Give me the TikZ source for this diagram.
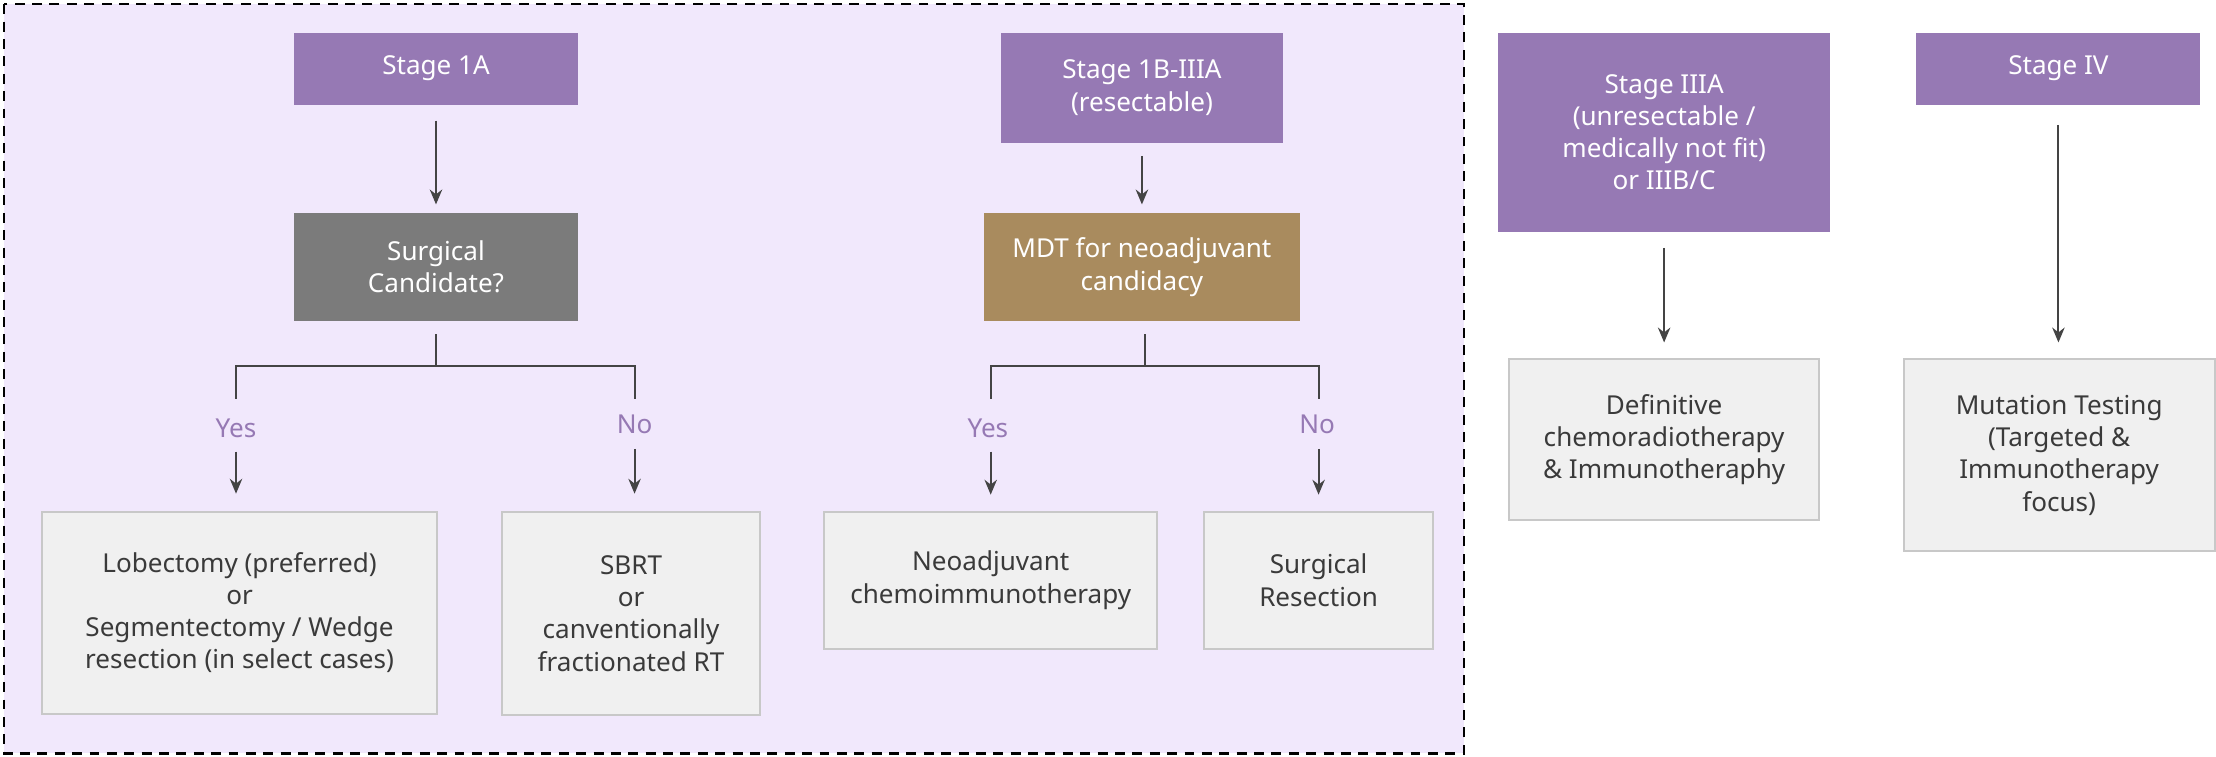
\documentclass[tikz,border=0pt]{standalone}
\usepackage{fontspec}
\setmainfont{Noto Sans}
\usetikzlibrary{arrows.meta}
\definecolor{stg}{HTML}{9679B4}
\definecolor{gry}{HTML}{7B7B7B}
\definecolor{brn}{HTML}{A98B5E}
\definecolor{lav}{HTML}{F1E8FC}
\definecolor{bfill}{HTML}{F0F0F0}
\definecolor{bline}{HTML}{C8C8C8}
\definecolor{txt}{HTML}{3A3A3A}
\definecolor{arr}{HTML}{444444}
\begin{document}
\begin{tikzpicture}[x=0.02cm,y=-0.02cm,
  every node/.style={font=\fontsize{10.5}{13}\selectfont, align=center, inner sep=2pt},
  stagebox/.style={fill=stg, text=white, font=\fontsize{10.5}{13}\selectfont\bfseries},
  qbox/.style={text=white, font=\fontsize{10.5}{13}\selectfont\bfseries},
  outbox/.style={fill=bfill, draw=bline, line width=0.8pt, text=txt},
  lbl/.style={text=stg, font=\fontsize{10.5}{13}\selectfont\bfseries},
  arw/.style={draw=arr, line width=0.8pt, -{Stealth[length=6pt,width=5pt]}},
  ln/.style={draw=arr, line width=0.8pt}]
\useasboundingbox (0,0) rectangle (1568,535);
\fill[white] (0,0) rectangle (1568,535);
\draw[fill=lav, dashed, line width=1pt, dash pattern=on 4pt off 3pt] (3,3) rectangle (1036,533);

\node[stagebox, minimum width=4.02cm, minimum height=1.02cm] (s1a) at (308.5,48.5) {Stage 1A};
\node[qbox, fill=gry, minimum width=4.02cm, minimum height=1.52cm] (surg) at (308.5,189) {Surgical\\Candidate?};
\node[outbox, minimum width=5.58cm, minimum height=2.86cm] (lob) at (169.5,433.5) {Lobectomy (preferred)\\\textbf{or}\\Segmentectomy / Wedge\\resection (in select cases)};
\node[outbox, minimum width=3.66cm, minimum height=2.88cm] (sbrt) at (446.5,434) {SBRT\\\textbf{or}\\canventionally\\fractionated RT};

\node[stagebox, minimum width=4cm, minimum height=1.56cm] (s1b) at (808,62) {Stage 1B-IIIA\\(resectable)};
\node[qbox, fill=brn, minimum width=4.48cm, minimum height=1.52cm] (mdt) at (808,189) {MDT for neoadjuvant\\candidacy};
\node[outbox, minimum width=4.72cm, minimum height=1.94cm] (neo) at (701,410.5) {Neoadjuvant\\chemoimmunotherapy};
\node[outbox, minimum width=3.24cm, minimum height=1.94cm] (sres) at (933,410.5) {Surgical\\Resection};

\node[stagebox, minimum width=4.7cm, minimum height=2.82cm] (s3) at (1177.5,93.5) {Stage IIIA\\(unresectable /\\medically not fit)\\or IIIB/C};
\node[outbox, minimum width=4.38cm, minimum height=2.28cm] (def) at (1177.5,311) {Definitive\\chemoradiotherapy\\\& Immunotheraphy};
\node[stagebox, minimum width=4.02cm, minimum height=1.02cm] (s4) at (1456.5,48.5) {Stage IV};
\node[outbox, minimum width=4.4cm, minimum height=2.72cm] (mut) at (1457,322) {Mutation Testing\\(Targeted \&\\Immunotherapy\\focus)};

% Stage 1A branch
\draw[arw, shorten <=0.22cm, shorten >=0.12cm] (s1a) -- (surg);
\coordinate (j1) at (308.5,259);
\draw[ln, shorten <=0.18cm] (surg.south) -- (j1);
\node[lbl] (y1) at (167,303) {Yes};
\node[lbl] (n1) at (449,300) {No};
\draw[ln] (y1.north |- j1) ++(0,23) -- ++(0,-23) -- (n1.north |- j1) -- ++(0,23);
\draw[arw, shorten <=0.12cm, shorten >=0.24cm] (y1) -- (y1 |- lob.north);
\draw[arw, shorten <=0.14cm, shorten >=0.24cm] (n1) -- (n1 |- sbrt.north);

% Stage 1B branch
\draw[arw, shorten <=0.18cm, shorten >=0.12cm] (s1b) -- (mdt);
\coordinate (j2) at (810,259);
\draw[ln, shorten <=0.18cm] (mdt.south -| j2) -- (j2);
\node[lbl] (y2) at (699,303) {Yes};
\node[lbl] (n2) at (932,300) {No};
\draw[ln] (701,282) -- (701,259) -- (933,259) -- (933,282);
\draw[arw, shorten <=0.12cm, shorten >=0.24cm] (y2.south -| 701,0) -- (701,362);
\draw[arw, shorten <=0.14cm, shorten >=0.24cm] (n2.south -| 933,0) -- (933,362);

% Stage III / IV
\draw[arw, shorten <=0.22cm, shorten >=0.22cm] (s3) -- (def);
\draw[arw, shorten <=0.28cm, shorten >=0.22cm] (s4) -- (s4 |- mut.north);
\end{tikzpicture}
\end{document}
